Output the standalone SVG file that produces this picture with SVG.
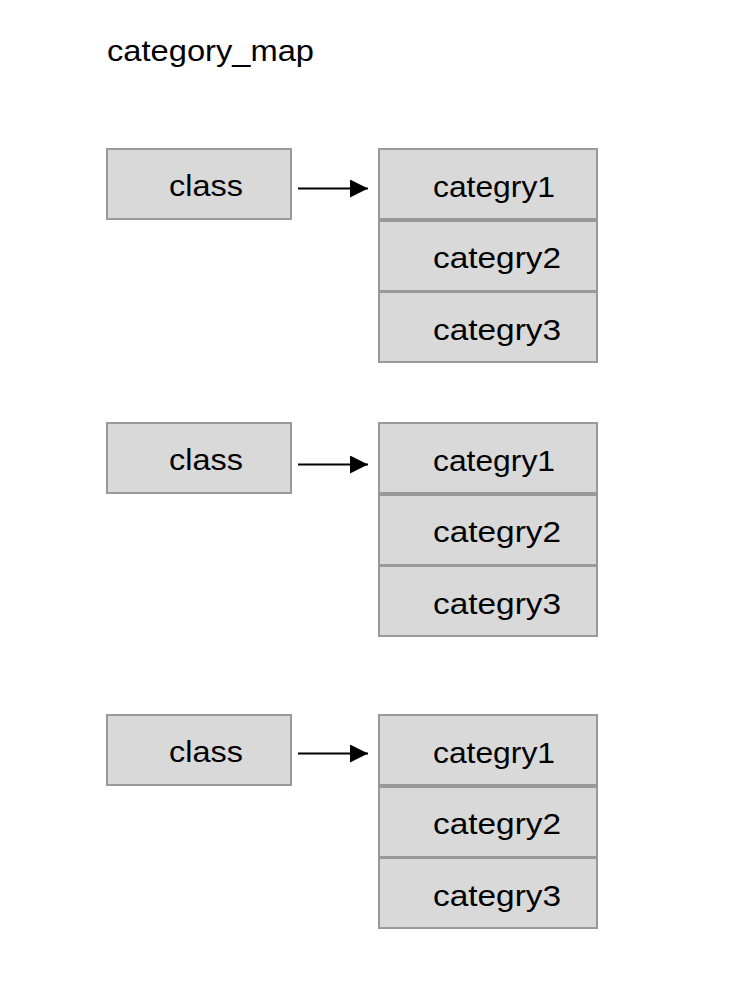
<svg xmlns="http://www.w3.org/2000/svg" width="734" height="998" viewBox="0 0 734 998">
<style>
.box{fill:#d9d9d9;stroke:#999999;stroke-width:2}
.t{font-family:"Liberation Sans",Arial,sans-serif;font-size:30px;fill:#000;text-anchor:middle}
.conn{stroke:#000;stroke-width:2;fill:none}
</style>
<defs>
<marker id="ah" markerWidth="18" markerHeight="18" refX="18" refY="9" orient="auto" markerUnits="userSpaceOnUse">
<path d="M0,0 L18,9 L0,18 Z" fill="#000"/>
</marker>
</defs>
<rect width="734" height="998" fill="#fff"/>
<text x="107" y="61" font-family="'Liberation Sans',Arial,sans-serif" font-size="29" fill="#000" textLength="207" lengthAdjust="spacingAndGlyphs">category_map</text>

<g id="class1"><rect class="box" x="107" y="149" width="184" height="70"/><text class="t" x="206" y="196" textLength="74" lengthAdjust="spacingAndGlyphs">class</text></g>
<g id="cat1"><rect class="box" x="379" y="149" width="218" height="70"/><text class="t" x="494" y="197" textLength="122" lengthAdjust="spacingAndGlyphs">categry1</text>
<rect class="box" x="379" y="221" width="218" height="70"/><text class="t" x="497" y="268" textLength="128" lengthAdjust="spacingAndGlyphs">categry2</text>
<rect class="box" x="379" y="292" width="218" height="70"/><text class="t" x="497" y="340" textLength="128" lengthAdjust="spacingAndGlyphs">categry3</text></g>

<g id="class2"><rect class="box" x="107" y="423" width="184" height="70"/><text class="t" x="206" y="470" textLength="74" lengthAdjust="spacingAndGlyphs">class</text></g>
<g id="cat2"><rect class="box" x="379" y="423" width="218" height="70"/><text class="t" x="494" y="471" textLength="122" lengthAdjust="spacingAndGlyphs">categry1</text>
<rect class="box" x="379" y="495" width="218" height="70"/><text class="t" x="497" y="542" textLength="128" lengthAdjust="spacingAndGlyphs">categry2</text>
<rect class="box" x="379" y="566" width="218" height="70"/><text class="t" x="497" y="614" textLength="128" lengthAdjust="spacingAndGlyphs">categry3</text></g>

<g id="class3"><rect class="box" x="107" y="715" width="184" height="70"/><text class="t" x="206" y="762" textLength="74" lengthAdjust="spacingAndGlyphs">class</text></g>
<g id="cat3"><rect class="box" x="379" y="715" width="218" height="70"/><text class="t" x="494" y="763" textLength="122" lengthAdjust="spacingAndGlyphs">categry1</text>
<rect class="box" x="379" y="787" width="218" height="70"/><text class="t" x="497" y="834" textLength="128" lengthAdjust="spacingAndGlyphs">categry2</text>
<rect class="box" x="379" y="858" width="218" height="70"/><text class="t" x="497" y="906" textLength="128" lengthAdjust="spacingAndGlyphs">categry3</text></g>

<g id="connectors">
<line class="conn" x1="298" y1="188.5" x2="368" y2="188.5" marker-end="url(#ah)"/>
<line class="conn" x1="298" y1="464.5" x2="368" y2="464.5" marker-end="url(#ah)"/>
<line class="conn" x1="298" y1="753.5" x2="368" y2="753.5" marker-end="url(#ah)"/>
</g>
</svg>
